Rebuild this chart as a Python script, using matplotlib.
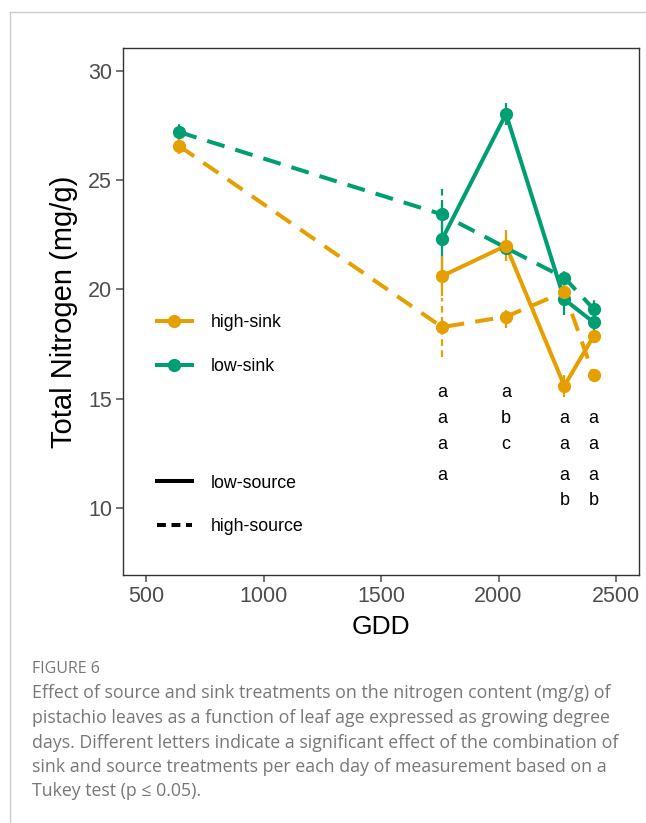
import numpy as np
import matplotlib.pyplot as plt
from matplotlib.lines import Line2D

plt.rcParams['font.family'] = ['Liberation Sans', 'DejaVu Sans']

# GDD at each measurement
gdd_all = [641, 1760, 2032, 2280, 2405]
gdd_late = [1760, 2032, 2280, 2405]

# high-sink (orange)
hs_highsrc = [26.56, 18.27, 18.75, 19.88, 16.07]
hs_highsrc_err = [0.35, 1.35, 0.5, 0.35, 0.3]
hs_lowsrc = [20.61, 22.0, 15.58, 17.86]
hs_lowsrc_err = [0.9, 0.7, 0.5, 0.3]

# low-sink (green)
ls_highsrc = [27.2, 23.43, 21.9, 20.53, 19.1]
ls_highsrc_err = [0.45, 1.15, 0.3, 0.5, 0.4]
ls_lowsrc = [22.29, 28.03, 19.54, 18.49]
ls_lowsrc_err = [1.6, 0.5, 0.7, 0.35]

# Tukey letters per day
letter_x = [1760, 2032, 2280, 2405]
letter_rows = [15.26, 14.09, 12.91, 11.49, 10.32]
letters = [['a', 'a', 'a', 'a', ''],
           ['a', 'b', 'c', '', ''],
           ['', 'a', 'a', 'a', 'b'],
           ['', 'a', 'a', 'a', 'b']]

orange = '#E69F00'
green = '#009E73'

fig = plt.figure(figsize=(6.46, 8.23), dpi=100)
ax = fig.add_axes([0.1904, 0.3013, 0.7988, 0.6404])

dash = (4.5, 2.8)


def draw(x, y, err, color, ls):
    eb = ax.errorbar(x, y, yerr=err, fmt='none', ecolor=color, elinewidth=1.6, capsize=0, zorder=2)
    if ls == '--':
        eb[2][0].set_linestyle((0, (3, 2)))
    line, = ax.plot(x, y, color=color, lw=2.9, zorder=3)
    if ls == '--':
        line.set_dashes(dash)
    ax.plot(x, y, 'o', color=color, ms=8.5, zorder=4)


draw(gdd_all, ls_highsrc, ls_highsrc_err, green, '--')
draw(gdd_late, ls_lowsrc, ls_lowsrc_err, green, '-')
draw(gdd_all, hs_highsrc, hs_highsrc_err, orange, '--')
draw(gdd_late, hs_lowsrc, hs_lowsrc_err, orange, '-')

for xi, col in zip(letter_x, letters):
    for yi, t in zip(letter_rows, col):
        if t:
            ax.text(xi, yi, t, ha='center', va='center', fontsize=13, color='black')

ax.set_xlim(402, 2598)
ax.set_ylim(6.92, 31.05)
ax.set_xticks([500, 1000, 1500, 2000, 2500])
ax.set_yticks([10, 15, 20, 25, 30])
ax.tick_params(labelsize=15.5, colors='#4D4D4D', length=5, width=1.1, pad=3)
ax.tick_params(axis='y', pad=3)
for s in ax.spines.values():
    s.set_color('#333333')
    s.set_linewidth(1.0)
ax.set_xlabel('GDD', fontsize=19, labelpad=6)
ax.set_ylabel('Total Nitrogen (mg/g)', fontsize=21, labelpad=7)

# legends
col_handles = [Line2D([], [], color=orange, lw=2.9, marker='o', ms=8.5),
               Line2D([], [], color=green, lw=2.9, marker='o', ms=8.5)]
leg1 = ax.legend(col_handles, ['high-sink', 'low-sink'], loc='center left',
                 bbox_to_anchor=(0.035, 0.437), frameon=False, fontsize=12.8,
                 handlelength=1.95, handletextpad=1.05, labelspacing=1.5)
ax.add_artist(leg1)
lt_solid = Line2D([], [], color='black', lw=2.9)
lt_dash = Line2D([], [], color='black', lw=2.9)
lt_dash.set_dashes((2.2, 1.4))
ax.legend([lt_solid, lt_dash], ['low-source', 'high-source'], loc='center left',
          bbox_to_anchor=(0.035, 0.133), frameon=False, fontsize=12.8,
          handlelength=1.95, handletextpad=1.05, labelspacing=1.5)

# page frame
fig.add_artist(Line2D([9.5 / 646, 1], [1 - 11.5 / 823, 1 - 11.5 / 823], color='#cccccc', lw=1))
fig.add_artist(Line2D([9.5 / 646, 9.5 / 646], [0, 1 - 11.5 / 823], color='#cccccc', lw=1))

# caption
cap_lines = ['Effect of source and sink treatments on the nitrogen content (mg/g) of',
             'pistachio leaves as a function of leaf age expressed as growing degree',
             'days. Different letters indicate a significant effect of the combination of',
             'sink and source treatments per each day of measurement based on a',
             'Tukey test (p \u2264 0.05).']
cap_y = [693, 718, 743, 767, 791]
fig.text(32 / 646, 1 - 669 / 823, 'FIGURE 6', fontsize=11.5, color='#777777',
         family='Open Sans', va='center')
for t, yy in zip(cap_lines, cap_y):
    fig.text(32 / 646, 1 - yy / 823, t, fontsize=12.8, color='#777777',
             family='Open Sans', va='center')

fig.savefig('out.png', dpi=100)
